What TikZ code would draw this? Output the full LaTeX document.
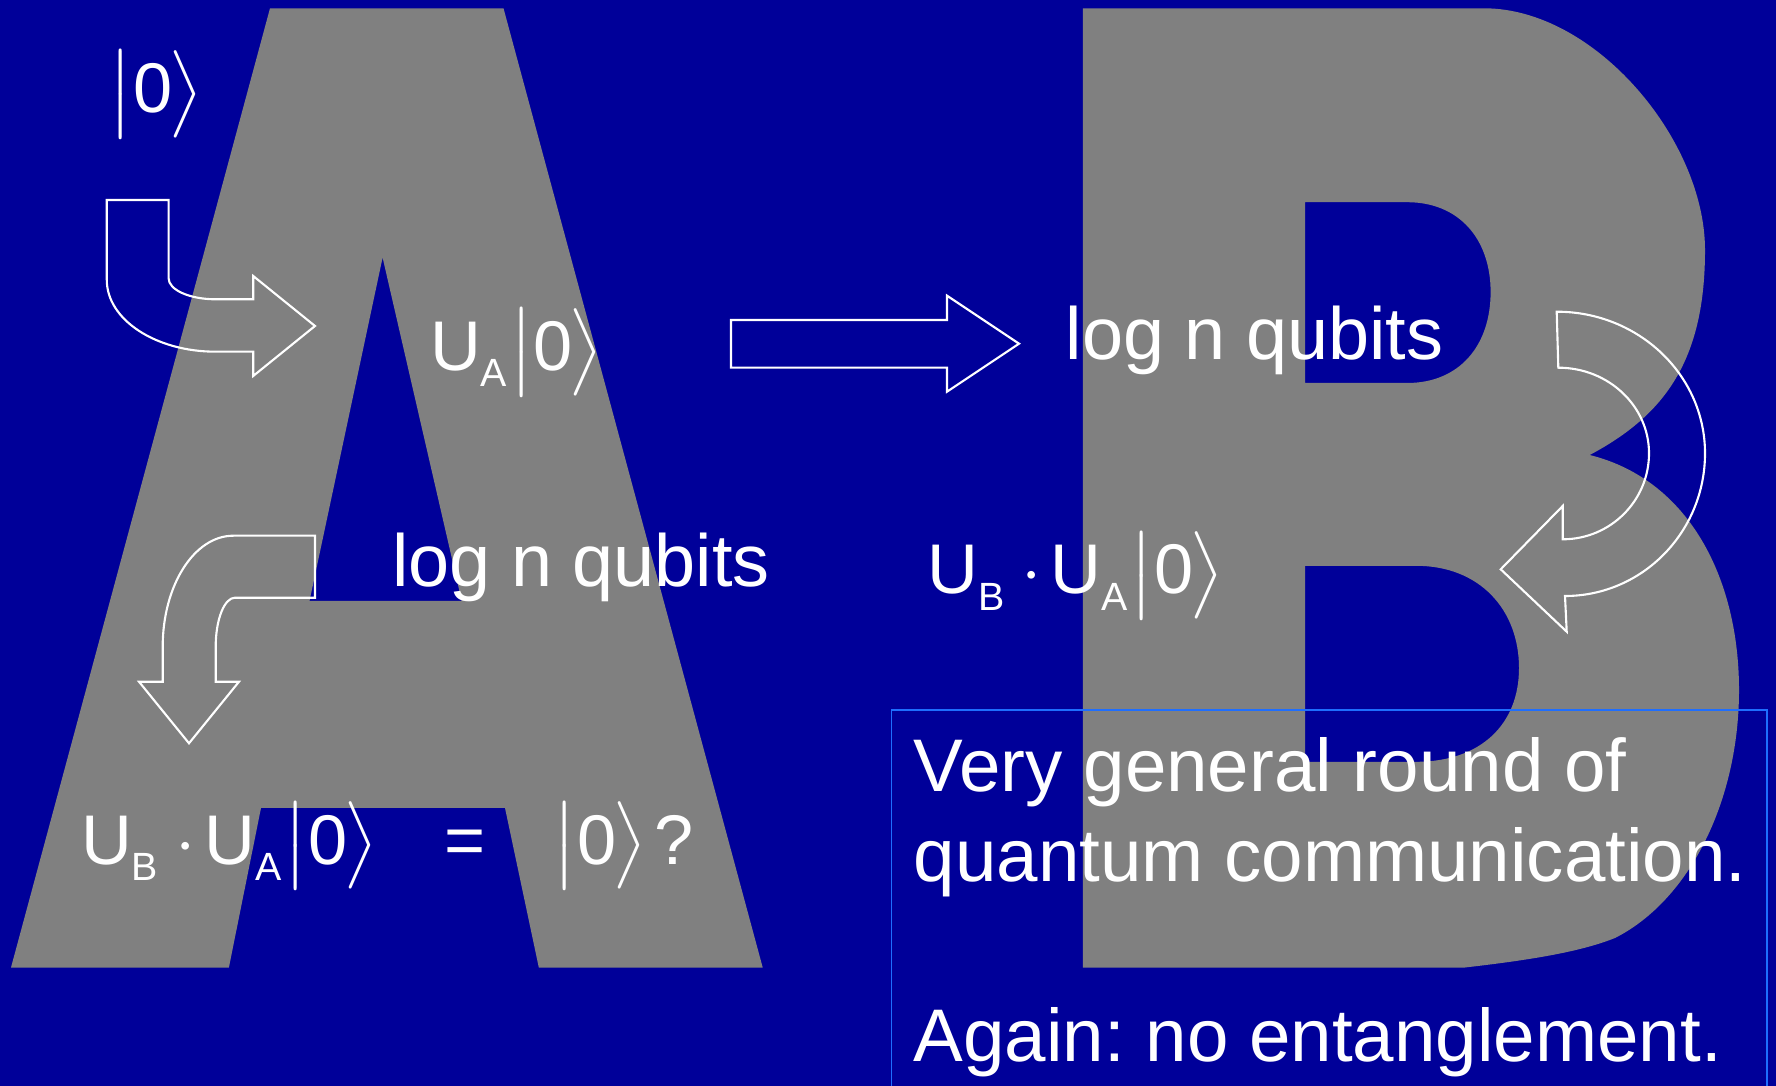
\documentclass[tikz,border=0pt]{standalone}
\usepackage{amsmath}
\usepackage{fontspec}
\setmainfont{Liberation Sans}
\definecolor{slideblue}{RGB}{0,0,153}
\definecolor{lettergray}{RGB}{128,128,128}
\definecolor{boxblue}{RGB}{30,110,255}
\newcommand{\lowsub}[1]{\raisebox{-4.6pt}{\fontsize{11.2}{13}\selectfont #1}}
\newcommand{\qket}[1]{$\left|\rule[-7pt]{0pt}{24pt}\text{#1}\kern-1pt\right\rangle$}

\begin{document}
\begin{tikzpicture}[x=0.01cm, y=-0.01cm,
    txt/.style={text=white, inner sep=0pt, anchor=base west, font=\fontsize{21}{25.6}\selectfont\frenchspacing},
    kettxt/.style={txt, font=\fontsize{20}{24}\selectfont},
    blockarrow/.style={draw=white, line width=0.6pt}]
    % 背景
    \fill[slideblue] (0,0) rectangle (1776,1086);
    \useasboundingbox (0,0) rectangle (1776,1086);

    % 字母 A
    \fill[lettergray, even odd rule] (11,967.5) -- (270,8.3) -- (503.5,8.3) -- (762.7,967.5) -- (538.8,967.5)
        -- (505,808) -- (261,808) -- (228.9,967.5) -- cycle
        (382.6,257.6) -- (461.7,601) -- (309.5,601) -- cycle;

    % 字母 B
    \fill[lettergray, even odd rule] (1082.8,8.3) -- (1484,8.3)
        .. controls (1595,8.3) and (1705,140) .. (1705,250)
        .. controls (1705,360) and (1665,415) .. (1589.7,455)
        .. controls (1690,480) and (1739,580) .. (1739,690)
        .. controls (1739,800) and (1690,900) .. (1615,938)
        .. controls (1580,952) and (1530,960) .. (1465,967.5)
        -- (1082.8,967.5) -- cycle
        (1305.2,202.2) -- (1407,202.2) .. controls (1460,202.2) and (1490.6,240) .. (1490.6,292)
        .. controls (1490.6,345) and (1460,383) .. (1407,383) -- (1305.2,383) -- cycle
        (1305.2,565.8) -- (1416,565.8) .. controls (1480,565.8) and (1519,610) .. (1519,668)
        .. controls (1519,725) and (1480,761.8) .. (1416,761.8) -- (1305.2,761.8) -- cycle;

    % 箭头
    \draw[blockarrow] (106.8,200) -- (168.6,200) -- (168.6,278.3)
        .. controls (168.6,289.9) and (189.7,299.3) .. (215.7,299.3) -- (253.2,299.3) -- (253.2,276)
        -- (315,326) -- (253.2,376) -- (253.2,351.7) -- (215.7,351.7)
        .. controls (155.6,351.7) and (106.8,319.6) .. (106.8,280) -- cycle;
    \draw[blockarrow] (731,320) -- (947,320) -- (947,295.7) -- (1019,343.7) -- (947,391.7)
        -- (947,367.7) -- (731,367.7) -- cycle;
    \draw[blockarrow] (315,535.7) -- (233.3,535.7) .. controls (194.3,535.7) and (162.7,585.4) .. (162.7,646.7)
        -- (162.7,681.7) -- (139,681.7) -- (189,743.3) -- (239,681.7) -- (215.7,681.7) -- (215.7,646.7)
        .. controls (215.7,619.6) and (224.3,597.7) .. (235,597.7) -- (315,597.7) -- cycle;
    \draw[blockarrow] (1556.7,311.7) .. controls (1638.6,311.7) and (1705,375.1) .. (1705,453.3)
        .. controls (1705,532.1) and (1642.3,596) .. (1565,596) -- (1566.7,631.7) -- (1500.7,569.3)
        -- (1562.7,506) -- (1562.7,539.3) .. controls (1610.4,539.3) and (1649,500.8) .. (1649,453.3)
        .. controls (1649,406) and (1608.4,367.7) .. (1558.3,367.7) -- cycle;

    % 文本框
    \draw[boxblue, line width=0.5pt] (891.4,710) rectangle (1766.7,1100);

    % 文字
    \node[kettxt] (ket0) at (108,113) {\qket{0}};
    \node[kettxt] (uaket) at (429.5,370.5) {U\lowsub{A}\hspace{0.5pt}\qket{0}};
    \node[txt] (sendqubits) at (1065,360) {log n qubits};
    \node[kettxt] (ubuaket) at (926.5,594) {U\lowsub{B}\hspace{5pt}$\cdot$\hspace{2.5pt}U\lowsub{A}\hspace{0.5pt}\qket{0}};
    \node[txt] (backqubits) at (391.5,587) {log n qubits};
    \node[kettxt] (question) at (80.5,864) {U\lowsub{B}\hspace{5pt}$\cdot$\hspace{2.5pt}U\lowsub{A}\hspace{0.5pt}\qket{0}\hspace{19pt}=\hspace{19pt}\qket{0}\hspace{2pt}?};
    \node[txt, align=left, font=\fontsize{21.2}{25.6}\selectfont\frenchspacing] (summary) at (913,1061.7)
        {Very general round of\\quantum communication.\\[25.6pt]Again: no entanglement.};
\end{tikzpicture}
\end{document}
